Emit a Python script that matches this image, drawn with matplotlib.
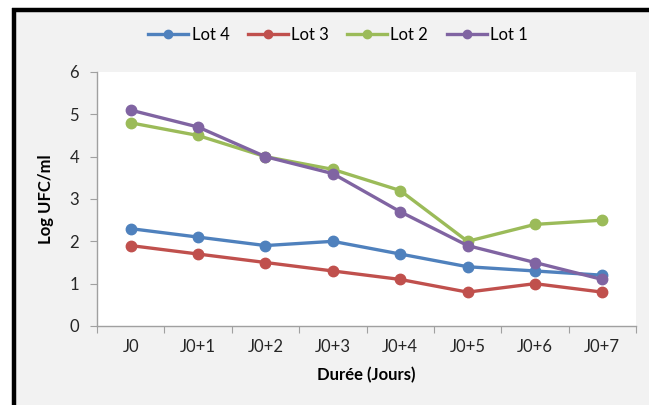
import matplotlib.pyplot as plt
from matplotlib.patches import Rectangle
from matplotlib.lines import Line2D

# Bacterial counts per lot over the storage days
jours = ['J0', 'J0+1', 'J0+2', 'J0+3', 'J0+4', 'J0+5', 'J0+6', 'J0+7']
lot4 = [2.3, 2.1, 1.9, 2.0, 1.7, 1.4, 1.3, 1.2]
lot3 = [1.9, 1.7, 1.5, 1.3, 1.1, 0.8, 1.0, 0.8]
lot2 = [4.8, 4.5, 4.0, 3.7, 3.2, 2.0, 2.4, 2.5]
lot1 = [5.1, 4.7, 4.0, 3.6, 2.7, 1.9, 1.5, 1.1]

series = [('Lot 4', lot4, '#4F81BD'),
          ('Lot 3', lot3, '#C0504D'),
          ('Lot 2', lot2, '#9BBB59'),
          ('Lot 1', lot1, '#8064A2')]

plt.rcParams['font.family'] = ['Lato', 'DejaVu Sans']

W, H = 649, 405
fig = plt.figure(figsize=(W / 100, H / 100), dpi=100, facecolor='white')

# gray chart area with a thick black frame on the left and top
fig.patches.append(Rectangle((15 / W, 0), 1, 1 - 11 / H, transform=fig.transFigure,
                             facecolor='#F2F2F2', edgecolor='none', zorder=-5))
fig.add_artist(Line2D([13.5 / W, 13.5 / W], [0, 1 - 8 / H], transform=fig.transFigure,
                      color='black', lw=3.2, solid_capstyle='butt'))
fig.add_artist(Line2D([12 / W, 1.0], [1 - 9.5 / H, 1 - 9.5 / H], transform=fig.transFigure,
                      color='black', lw=3.2, solid_capstyle='butt'))

ax = fig.add_axes([97 / W, 1 - 326 / H, (636 - 97) / W, (326 - 72) / H])
ax.set_facecolor('white')

x = [i + 0.5 for i in range(len(jours))]
for name, vals, col in series:
    ax.plot(x, vals, color=col, lw=2.4, marker='o', markersize=7.5,
            label=name, clip_on=False)

ax.set_xlim(0, len(jours))
ax.set_ylim(0, 6)
ax.set_yticks(range(0, 7))

# category boundaries as ticks, labels centred on each category
ax.set_xticks(range(0, len(jours) + 1))
ax.set_xticklabels([])
ax.set_xticks(x, minor=True)
ax.set_xticklabels(jours, minor=True)
ax.tick_params(axis='x', which='minor', length=0, pad=9, labelsize=12, labelcolor='#262626')
ax.tick_params(axis='x', which='major', length=5, color='#A0A0A0', direction='out')
ax.tick_params(axis='y', length=5, color='#A0A0A0', direction='out', labelsize=12,
               labelcolor='#262626', pad=8)

for s in ['top', 'right']:
    ax.spines[s].set_visible(False)
for s in ['left', 'bottom']:
    ax.spines[s].set_color('#A0A0A0')
    ax.spines[s].set_linewidth(1)

ax.set_xlabel('Durée (Jours)', fontsize=12, fontweight='bold', labelpad=9)
ax.set_ylabel('Log UFC/ml', fontsize=12, fontweight='bold', labelpad=11)

fig.legend(loc='center', bbox_to_anchor=(338 / W, 1 - 35 / H), ncol=4, frameon=False,
           fontsize=12, handlelength=2.4, handletextpad=0.2, columnspacing=1.1,
           markerscale=0.8)

fig.savefig('out.png', dpi=100, facecolor=fig.get_facecolor())
